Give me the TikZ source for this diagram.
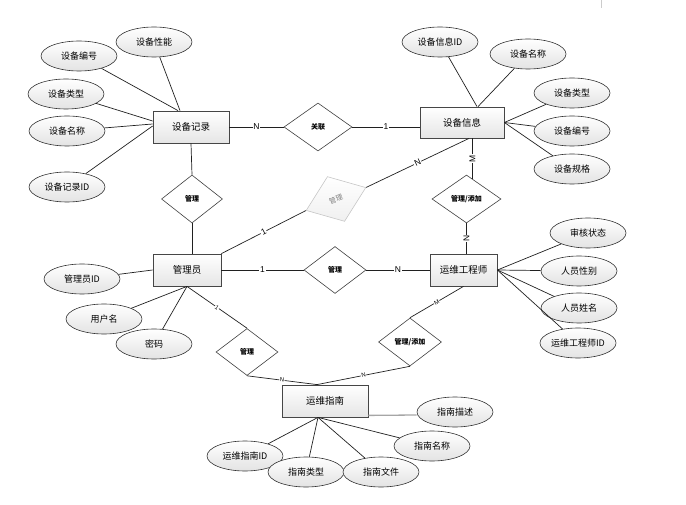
\documentclass[tikz,border=0pt]{standalone}
\usepackage{fontspec}
\setmainfont{Liberation Sans}
\newfontfamily\cjk{Noto Sans CJK SC}
\usetikzlibrary{shapes.geometric,shadows,calc}
\begin{document}
\begin{tikzpicture}[x=1pt,y=-1pt,
  ent/.style={rectangle, draw=gray!55!black, line width=0.8pt, top color=white, bottom color=gray!20,
    minimum height=32pt, inner sep=0pt, font=\cjk\fontsize{9.5}{11}\selectfont,
    drop shadow={shadow xshift=1.2pt, shadow yshift=-1.2pt, opacity=0.35, fill=gray}},
  attr/.style={ellipse, draw=gray!40!black, line width=0.6pt, top color=white, bottom color=gray!22,
    minimum width=76pt, minimum height=30pt, inner sep=0pt, font=\cjk\fontsize{9}{11}\selectfont},
  rel/.style={diamond, draw=gray!50!black, line width=0.6pt, fill=white, inner sep=0pt,
    font=\cjk\bfseries\fontsize{7}{8}\selectfont},
  grel/.style={diamond, draw=gray!45, line width=0.6pt, top color=white, bottom color=gray!12,
    inner sep=0pt, text=gray, font=\cjk\fontsize{7}{8}\selectfont},
  conn/.style={draw=gray!25!black, line width=0.7pt},
  lbl/.style={fill=white, inner sep=0.8pt, font=\fontsize{8.5}{10}\selectfont},
  slbl/.style={fill=white, inner sep=0.5pt, font=\fontsize{6}{7}\selectfont},
]
\useasboundingbox (0,0) rectangle (686,505);
\draw[gray!40, line width=0.6pt] (601,0) -- (601,8);

% entities
\node[ent, minimum width=76pt] (rec) at (191,127) {设备记录};
\node[ent, minimum width=84pt, minimum height=31pt] (info) at (462,122.5) {设备信息};
\node[ent, minimum width=68pt] (adm) at (187,270) {管理员};
\node[ent, minimum width=67pt] (eng) at (463.5,270) {运维工程师};
\node[ent, minimum width=86pt] (guide) at (325,401) {运维指南};

% relations
\node[rel, minimum width=68pt, minimum height=48pt] (rl) at (318,127) {关联};
\node[rel, minimum width=61pt, minimum height=48pt] (m1) at (192,199) {管理};
\node[rel, minimum width=69pt, minimum height=48pt] (mgd) at (466.5,199) {管理/添加};
\node[rel, minimum width=62pt, minimum height=47pt] (m2) at (335,270) {管理};
\node[rel, minimum width=63pt, minimum height=48pt] (mgd2) at (410,342) {管理/添加};
\node[rel, minimum width=62pt, minimum height=47pt] (m3) at (247,352) {管理};
\node[grel, rotate=21, minimum width=64pt, minimum height=48pt] (g) at (336,199) {管理};

% attributes of 设备记录
\node[attr] (a1) at (154,42) {设备性能};
\node[attr] (a2) at (79,56) {设备编号};
\node[attr] (a3) at (66,94) {设备类型};
\node[attr] (a4) at (67,131) {设备名称};
\node[attr] (a5) at (67,187) {设备记录ID};
% attributes of 设备信息
\node[attr] (b1) at (440,42) {设备信息ID};
\node[attr] (b2) at (528,54) {设备名称};
\node[attr] (b3) at (572,93) {设备类型};
\node[attr] (b4) at (572,131) {设备编号};
\node[attr] (b5) at (572,169) {设备规格};
% attributes of 管理员
\node[attr] (c1) at (82,279) {管理员ID};
\node[attr] (c2) at (104,319) {用户名};
\node[attr] (c3) at (154,344) {密码};
% attributes of 运维工程师
\node[attr] (d1) at (588,233) {审核状态};
\node[attr] (d2) at (579,271) {人员性别};
\node[attr] (d3) at (579,308) {人员姓名};
\node[attr] (d4) at (578,343) {运维工程师ID};
% attributes of 运维指南
\node[attr] (e1) at (455,412) {指南描述};
\node[attr] (e2) at (432,446) {指南名称};
\node[attr] (e3) at (245,456) {运维指南ID};
\node[attr] (e4) at (306,472) {指南类型};
\node[attr] (e5) at (381,472) {指南文件};

% attribute connectors
\draw[conn] (a1) -- ([xshift=-11pt]rec.north);
\draw[conn] (a2) -- ([xshift=-13pt]rec.north);
\draw[conn] (a3) -- ([yshift=6pt]rec.west);
\draw[conn] (a4) -- ([yshift=3pt]rec.west);
\draw[conn] (a5) -- ([yshift=1pt]rec.west);
\draw[conn] (b1) -- ([xshift=15pt]info.north);
\draw[conn] (b2) -- ([xshift=16pt]info.north);
\draw[conn] (b3) -- (info.east);
\draw[conn] (b4) -- (info.east);
\draw[conn] (b5) -- (info.east);
\draw[conn] (c1) -- (adm.west);
\draw[conn] (c2) -- (adm.south);
\draw[conn] (c3) -- (adm.south);
\draw[conn] (d1) -- (eng.east);
\draw[conn] (d2) -- (eng.east);
\draw[conn] (d3) -- (eng.east);
\draw[conn] (d4) -- (eng.east);
\draw[draw=gray!70, line width=1.3pt] ([yshift=2pt]guide.south east) -- ([yshift=-3pt]e1.west);
\draw[conn] (e2) -- ([xshift=-7pt]guide.south);
\draw[conn] (e3) -- ([xshift=-7pt]guide.south);
\draw[conn] (e4) -- ([xshift=-7pt]guide.south);
\draw[conn] (e5) -- ([xshift=-7pt]guide.south);

% relationship connectors
\draw[conn] (rec.east) -- (rl.west) node[midway,lbl]{N};
\draw[conn] (rl.east) -- (info.west |- rl.east) node[midway,lbl]{1};
\draw[conn] (rec.south) -- (m1.north);
\draw[conn] (m1.south) -- (m1.south |- adm.north);
\draw[conn] (adm.north east) -- (g.west) node[midway,lbl,sloped]{1};
\draw[conn] (g.east) -- ([xshift=7pt]info.south) node[midway,lbl,sloped]{N};
\coordinate (mgdT) at ($(mgd.north)!0.17!(mgd.east)$);
\draw[conn] (mgdT |- info.south) -- (mgdT) node[midway,lbl,rotate=90]{M};
\draw[conn] (mgd.south) -- (mgd.south |- eng.north) node[midway,lbl,rotate=90]{N};
\draw[conn] (adm.east) -- (m2.west) node[midway,lbl]{1};
\draw[conn] (m2.east) -- (eng.west) node[midway,lbl]{N};
\draw[conn] (eng.south) -- (mgd2.north) node[midway,slbl,sloped]{M};
\draw[conn] (mgd2.south) -- ([xshift=-8pt]guide.north) node[midway,slbl,sloped]{N};
\draw[conn] (adm.south) -- (m3.north) node[midway,slbl,sloped]{1};
\draw[conn] (m3.south) -- ([xshift=-8pt]guide.north) node[midway,slbl,sloped]{N};
\end{tikzpicture}
\end{document}
